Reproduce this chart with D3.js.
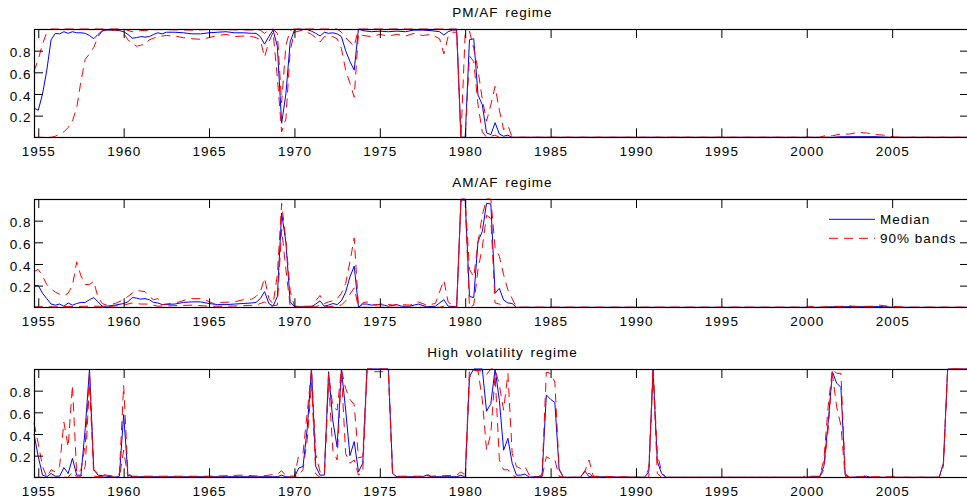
<!DOCTYPE html>
<html><head><meta charset="utf-8">
<script src="https://cdn.jsdelivr.net/npm/d3@7"></script>
<style>
html,body{margin:0;padding:0;background:#fff;overflow:hidden;}
svg{display:block;}
text{font-family:"Liberation Sans",Arial,Helvetica,sans-serif;font-size:13.5px;fill:#000;letter-spacing:1px;}
</style></head><body>
<svg id="chart" width="967" height="502"></svg>
<script>
// ---------- data (year, probability) ----------
const xTickYears = [1955, 1960, 1965, 1970, 1975, 1980, 1985, 1990, 1995, 2000, 2005];
const yTickValues = [0.2, 0.4, 0.6, 0.8];
const panelTitles = ["PM/AF regime", "AM/AF regime", "High volatility regime"];
const legendLabels = ["Median", "90% bands"];

const pmafMedian = [[1954.75,0.27],[1955.0,0.25],[1955.25,0.40],[1955.5,0.62],[1955.75,0.90],[1956.0,0.96],[1956.25,0.955],[1956.5,0.975],[1956.75,0.96],[1957.0,0.975],[1957.25,0.965],[1957.5,0.965],[1957.75,0.96],[1958.0,0.94],[1958.25,0.91],[1958.5,0.95],[1958.75,0.985],[1959.0,0.99],[1959.5,0.99],[1959.75,0.985],[1960.0,0.975],[1960.25,0.95],[1960.5,0.915],[1960.75,0.92],[1961.0,0.93],[1961.25,0.925],[1961.5,0.93],[1961.75,0.95],[1962.0,0.965],[1962.25,0.955],[1962.5,0.97],[1963.0,0.97],[1963.5,0.965],[1964.0,0.955],[1964.5,0.955],[1965.0,0.965],[1965.5,0.97],[1966.0,0.975],[1966.5,0.965],[1967.0,0.965],[1967.5,0.96],[1967.75,0.96],[1968.0,0.93],[1968.25,0.86],[1968.5,0.93],[1968.75,0.99],[1969.0,0.84],[1969.25,0.13],[1969.5,0.40],[1969.75,0.88],[1970.0,0.99],[1970.25,1.0],[1970.75,0.995],[1971.0,0.98],[1971.25,0.96],[1971.5,0.935],[1971.75,0.97],[1972.0,0.96],[1972.25,0.965],[1972.5,0.955],[1972.75,0.93],[1973.0,0.80],[1973.25,0.70],[1973.5,0.62],[1973.75,1.0],[1974.0,0.985],[1974.5,0.975],[1975.0,0.98],[1975.5,0.975],[1976.0,0.98],[1976.5,0.975],[1977.0,0.99],[1977.5,0.99],[1978.0,0.985],[1978.5,0.975],[1978.75,0.945],[1979.0,0.975],[1979.25,0.99],[1979.5,0.99],[1979.75,0.0],[1980.0,0.0],[1980.25,0.90],[1980.5,0.91],[1980.75,0.39],[1981.0,0.30],[1981.25,0.04],[1981.5,0.025],[1981.75,0.135],[1982.0,0.03],[1982.25,0.01],[1982.5,0.02],[1982.75,0.0],[2001.5,0.0],[2002.0,0.005],[2004.0,0.006],[2004.75,0.0],[2009.5,0.0]];
const pmafUpper = [[1954.75,0.61],[1955.0,0.72],[1955.25,0.86],[1955.5,0.97],[1955.75,1.0],[1960.0,1.0],[1960.5,0.975],[1961.0,0.985],[1962.0,0.995],[1964.0,0.99],[1965.0,0.995],[1968.0,0.99],[1968.25,0.96],[1968.5,0.99],[1968.75,1.0],[1969.0,0.96],[1969.25,0.32],[1969.5,0.85],[1969.75,0.99],[1970.0,1.0],[1972.5,1.0],[1972.75,0.97],[1973.0,0.92],[1973.25,0.88],[1973.5,0.84],[1973.75,1.0],[1979.5,1.0],[1979.75,0.0],[1980.0,0.97],[1980.25,0.98],[1980.5,0.82],[1980.75,0.62],[1981.0,0.35],[1981.25,0.15],[1981.5,0.30],[1981.75,0.47],[1982.0,0.25],[1982.25,0.07],[1982.5,0.11],[1982.75,0.0],[2000.75,0.0],[2001.0,0.012],[2001.5,0.015],[2002.0,0.03],[2002.5,0.03],[2003.0,0.045],[2003.5,0.04],[2004.0,0.025],[2004.5,0.02],[2005.0,0.005],[2005.5,0.0],[2009.5,0.0]];
const pmafLower = [[1954.75,0.0],[1955.75,0.0],[1956.0,0.01],[1956.25,0.03],[1956.5,0.05],[1956.75,0.09],[1957.0,0.15],[1957.25,0.27],[1957.5,0.52],[1957.75,0.72],[1958.0,0.77],[1958.25,0.83],[1958.5,0.93],[1958.75,0.98],[1959.0,0.99],[1959.75,0.99],[1960.0,0.96],[1960.25,0.90],[1960.5,0.87],[1960.75,0.84],[1961.0,0.85],[1961.25,0.86],[1961.5,0.90],[1961.75,0.915],[1962.0,0.93],[1962.5,0.94],[1963.0,0.935],[1963.5,0.92],[1964.0,0.91],[1964.5,0.905],[1965.0,0.92],[1965.5,0.94],[1966.0,0.95],[1966.5,0.93],[1967.0,0.935],[1967.5,0.93],[1967.75,0.92],[1968.0,0.90],[1968.25,0.74],[1968.5,0.88],[1968.75,0.97],[1969.0,0.55],[1969.25,0.05],[1969.5,0.17],[1969.75,0.80],[1970.0,0.97],[1970.5,0.99],[1971.0,0.95],[1971.25,0.92],[1971.5,0.88],[1971.75,0.93],[1972.0,0.92],[1972.25,0.93],[1972.5,0.91],[1972.75,0.82],[1973.0,0.62],[1973.25,0.50],[1973.5,0.37],[1973.75,0.96],[1974.0,0.94],[1974.5,0.93],[1975.0,0.95],[1975.5,0.935],[1976.0,0.95],[1976.5,0.935],[1977.0,0.96],[1977.5,0.94],[1978.0,0.95],[1978.5,0.91],[1978.75,0.77],[1979.0,0.93],[1979.25,0.97],[1979.5,0.97],[1979.75,0.0],[1980.0,0.0],[1980.25,0.75],[1980.5,0.70],[1980.75,0.30],[1981.0,0.05],[1981.25,0.0],[1981.5,0.01],[1981.75,0.02],[1982.0,0.0],[2009.5,0.0]];

const amafMedian = [[1954.75,0.20],[1955.0,0.20],[1955.25,0.13],[1955.5,0.08],[1955.75,0.03],[1956.0,0.02],[1956.25,0.03],[1956.5,0.01],[1956.75,0.04],[1957.0,0.02],[1957.25,0.035],[1957.5,0.045],[1957.75,0.045],[1958.0,0.07],[1958.25,0.09],[1958.5,0.05],[1958.75,0.01],[1959.0,0.01],[1959.5,0.02],[1960.0,0.035],[1960.25,0.05],[1960.5,0.09],[1960.75,0.085],[1961.0,0.075],[1961.25,0.08],[1961.5,0.07],[1961.75,0.045],[1962.0,0.04],[1962.25,0.025],[1963.0,0.03],[1963.5,0.045],[1964.0,0.05],[1964.5,0.05],[1965.0,0.035],[1965.5,0.025],[1966.0,0.025],[1966.5,0.03],[1967.0,0.035],[1967.5,0.04],[1967.75,0.045],[1968.0,0.08],[1968.25,0.145],[1968.5,0.035],[1968.75,0.01],[1969.0,0.10],[1969.25,0.87],[1969.5,0.60],[1969.75,0.05],[1970.0,0.005],[1971.0,0.005],[1971.25,0.03],[1971.5,0.06],[1971.75,0.01],[1972.0,0.02],[1972.25,0.035],[1972.5,0.025],[1972.75,0.06],[1973.0,0.14],[1973.25,0.28],[1973.5,0.38],[1973.75,0.0],[1974.0,0.03],[1974.25,0.03],[1974.5,0.02],[1975.0,0.025],[1975.25,0.02],[1975.5,0.01],[1976.0,0.025],[1976.25,0.01],[1976.75,0.01],[1977.25,0.03],[1977.75,0.005],[1978.25,0.01],[1978.75,0.07],[1979.0,0.01],[1979.5,0.005],[1979.75,0.99],[1980.0,0.99],[1980.25,0.10],[1980.5,0.09],[1980.75,0.61],[1981.0,0.70],[1981.25,0.96],[1981.5,0.955],[1981.75,0.13],[1982.0,0.175],[1982.25,0.067],[1982.5,0.04],[1982.75,0.035],[1983.0,0.0],[2001.0,0.0],[2001.5,0.005],[2004.5,0.006],[2005.0,0.0],[2009.5,0.0]];
const amafUpper = [[1954.75,0.33],[1955.0,0.35],[1955.25,0.29],[1955.5,0.21],[1955.75,0.17],[1956.0,0.14],[1956.25,0.12],[1956.5,0.105],[1956.75,0.13],[1957.0,0.20],[1957.25,0.42],[1957.5,0.29],[1957.75,0.21],[1958.0,0.21],[1958.25,0.24],[1958.5,0.09],[1958.75,0.035],[1959.0,0.02],[1959.5,0.035],[1960.0,0.07],[1960.25,0.10],[1960.5,0.13],[1960.75,0.16],[1961.0,0.15],[1961.25,0.145],[1961.5,0.10],[1961.75,0.07],[1962.0,0.08],[1962.25,0.025],[1962.75,0.035],[1963.25,0.05],[1963.75,0.075],[1964.0,0.08],[1964.5,0.08],[1964.75,0.07],[1965.25,0.035],[1965.75,0.045],[1966.5,0.05],[1967.0,0.07],[1967.5,0.075],[1967.75,0.10],[1968.0,0.14],[1968.25,0.27],[1968.5,0.08],[1968.75,0.03],[1969.0,0.30],[1969.25,0.96],[1969.5,0.62],[1969.75,0.15],[1970.0,0.01],[1971.0,0.01],[1971.25,0.06],[1971.5,0.11],[1971.75,0.035],[1972.0,0.05],[1972.25,0.06],[1972.5,0.08],[1972.75,0.13],[1973.0,0.22],[1973.25,0.42],[1973.5,0.64],[1973.75,0.0],[1974.0,0.04],[1974.25,0.05],[1974.75,0.02],[1975.25,0.035],[1975.75,0.02],[1976.25,0.025],[1976.75,0.02],[1977.25,0.05],[1977.75,0.02],[1978.25,0.035],[1978.75,0.25],[1979.0,0.05],[1979.25,0.02],[1979.5,0.01],[1979.75,1.0],[1980.0,1.0],[1980.25,0.35],[1980.5,0.28],[1980.75,0.60],[1981.0,0.85],[1981.25,1.0],[1981.5,1.0],[1981.75,0.55],[1982.0,0.47],[1982.25,0.30],[1982.5,0.16],[1982.75,0.08],[1983.0,0.0],[2000.0,0.0],[2000.25,0.008],[2000.5,0.0],[2001.0,0.003],[2001.5,0.01],[2002.0,0.007],[2002.25,0.015],[2003.0,0.008],[2004.0,0.01],[2004.25,0.02],[2004.75,0.01],[2005.5,0.005],[2006.0,0.0],[2009.5,0.0]];
const amafLower = [[1954.75,0.005],[1956.0,0.005],[1958.0,0.01],[1958.5,0.01],[1959.0,0.005],[1960.0,0.02],[1960.5,0.04],[1961.0,0.03],[1961.5,0.03],[1962.0,0.01],[1963.0,0.015],[1964.0,0.02],[1965.0,0.01],[1966.0,0.01],[1967.0,0.015],[1967.75,0.02],[1968.25,0.05],[1968.5,0.01],[1969.0,0.02],[1969.25,0.72],[1969.5,0.35],[1969.75,0.01],[1970.0,0.0],[1971.25,0.005],[1971.5,0.02],[1972.0,0.005],[1972.75,0.02],[1973.0,0.06],[1973.25,0.12],[1973.5,0.18],[1973.75,0.0],[1978.5,0.0],[1978.75,0.01],[1979.5,0.0],[1979.75,0.98],[1980.0,0.97],[1980.25,0.0],[1980.5,0.02],[1980.75,0.35],[1981.0,0.55],[1981.25,0.85],[1981.5,0.82],[1981.75,0.04],[1982.0,0.03],[1982.25,0.005],[1982.5,0.0],[2009.5,0.0]];

const hvolMedian = [[1954.75,0.40],[1955.0,0.19],[1955.25,0.02],[1955.5,0.005],[1955.75,0.035],[1956.0,0.01],[1956.25,0.01],[1956.5,0.09],[1956.75,0.035],[1957.0,0.175],[1957.25,0.02],[1957.5,0.02],[1957.75,0.45],[1958.0,1.0],[1958.25,0.07],[1958.5,0.02],[1959.0,0.01],[1959.5,0.0],[1959.75,0.01],[1960.0,0.58],[1960.25,0.02],[1960.5,0.005],[1969.0,0.005],[1969.25,0.02],[1969.5,0.005],[1970.0,0.0],[1970.25,0.085],[1970.5,0.10],[1970.75,0.45],[1971.0,1.0],[1971.25,0.10],[1971.5,0.02],[1971.75,0.02],[1972.0,0.975],[1972.25,0.52],[1972.5,0.28],[1972.75,1.0],[1973.0,0.62],[1973.25,0.20],[1973.5,0.33],[1973.75,0.05],[1974.0,0.13],[1974.25,1.0],[1975.5,1.0],[1975.75,0.035],[1976.0,0.005],[1977.5,0.005],[1977.75,0.02],[1978.0,0.005],[1979.5,0.005],[1979.75,0.02],[1980.0,0.0],[1980.25,0.93],[1980.5,1.0],[1981.0,1.0],[1981.25,0.61],[1981.5,0.68],[1981.75,1.0],[1982.0,0.71],[1982.25,0.25],[1982.5,0.36],[1982.75,0.13],[1983.0,0.02],[1983.25,0.02],[1983.5,0.03],[1983.75,0.0],[1984.5,0.01],[1984.75,0.76],[1985.0,0.72],[1985.25,0.69],[1985.5,0.07],[1985.75,0.0],[1986.75,0.0],[1987.0,0.06],[1987.25,0.005],[1990.5,0.0],[1990.75,0.05],[1991.0,1.0],[1991.25,0.145],[1991.5,0.035],[1991.75,0.0],[2000.0,0.0],[2000.25,0.005],[2000.75,0.005],[2001.0,0.10],[2001.25,0.50],[2001.5,0.975],[2001.75,0.87],[2002.0,0.83],[2002.25,0.02],[2002.5,0.0],[2003.25,0.005],[2003.5,0.01],[2003.75,0.0],[2007.75,0.0],[2008.0,0.13],[2008.25,1.0],[2009.5,1.0]];
const hvolUpper = [[1954.75,0.50],[1955.0,0.31],[1955.25,0.10],[1955.5,0.0],[1955.75,0.07],[1956.0,0.05],[1956.25,0.10],[1956.5,0.51],[1956.75,0.28],[1957.0,0.85],[1957.25,0.035],[1957.5,0.07],[1957.75,0.30],[1958.0,0.975],[1958.25,0.07],[1958.5,0.035],[1959.0,0.02],[1959.5,0.01],[1959.75,0.035],[1960.0,0.85],[1960.25,0.035],[1960.5,0.01],[1965.0,0.01],[1967.0,0.02],[1968.0,0.01],[1969.0,0.03],[1969.25,0.06],[1969.5,0.015],[1970.0,0.01],[1970.25,0.20],[1970.5,0.22],[1970.75,0.60],[1971.0,1.0],[1971.25,0.21],[1971.5,0.05],[1971.75,0.035],[1972.0,0.96],[1972.25,0.65],[1972.5,0.62],[1972.75,1.0],[1973.0,0.82],[1973.25,0.72],[1973.5,0.67],[1973.75,0.18],[1974.0,0.19],[1974.25,1.0],[1975.5,1.0],[1975.75,0.035],[1976.0,0.01],[1977.5,0.01],[1977.75,0.03],[1978.0,0.01],[1979.5,0.02],[1979.75,0.05],[1980.0,0.02],[1980.25,1.0],[1981.0,0.98],[1981.25,0.95],[1981.5,1.0],[1981.75,1.0],[1982.0,0.85],[1982.25,0.62],[1982.5,0.96],[1982.75,0.22],[1983.0,0.10],[1983.25,0.08],[1983.5,0.10],[1983.75,0.02],[1984.25,0.0],[1984.5,0.03],[1984.75,0.97],[1985.0,0.96],[1985.25,0.88],[1985.5,0.08],[1985.75,0.0],[1986.75,0.0],[1987.0,0.05],[1987.25,0.16],[1987.5,0.01],[1990.5,0.0],[1990.75,0.08],[1991.0,1.0],[1991.25,0.22],[1991.5,0.05],[1991.75,0.0],[1999.75,0.0],[2000.0,0.02],[2000.25,0.01],[2000.75,0.01],[2001.0,0.16],[2001.25,0.65],[2001.5,1.0],[2001.75,0.96],[2002.0,0.96],[2002.25,0.035],[2002.5,0.0],[2003.25,0.005],[2003.5,0.02],[2003.75,0.005],[2005.0,0.005],[2005.25,0.015],[2005.5,0.0],[2007.75,0.0],[2008.0,0.12],[2008.25,1.0],[2009.5,1.0]];
const hvolLower = [[1954.75,0.0],[1956.75,0.0],[1957.0,0.05],[1957.25,0.005],[1957.5,0.005],[1957.75,0.10],[1958.0,0.87],[1958.25,0.01],[1959.75,0.0],[1960.0,0.25],[1960.25,0.0],[1970.0,0.0],[1970.25,0.02],[1970.5,0.07],[1970.75,0.35],[1971.0,0.87],[1971.25,0.03],[1971.5,0.0],[1971.75,0.0],[1972.0,0.87],[1972.25,0.25],[1972.5,0.16],[1972.75,0.96],[1973.0,0.22],[1973.25,0.13],[1973.5,0.16],[1973.75,0.02],[1974.0,0.05],[1974.25,0.975],[1975.5,0.975],[1975.75,0.0],[1980.0,0.0],[1980.25,0.92],[1980.5,0.99],[1980.75,0.98],[1981.0,0.72],[1981.25,0.25],[1981.5,0.40],[1981.75,0.95],[1982.0,0.16],[1982.25,0.07],[1982.5,0.07],[1982.75,0.02],[1983.0,0.0],[1984.5,0.0],[1984.75,0.19],[1985.0,0.17],[1985.25,0.16],[1985.5,0.01],[1985.75,0.0],[1987.0,0.0],[1987.25,0.04],[1987.5,0.0],[1990.75,0.0],[1991.0,0.975],[1991.25,0.035],[1991.5,0.0],[2000.75,0.0],[2001.0,0.07],[2001.25,0.44],[2001.5,0.96],[2001.75,0.65],[2002.0,0.48],[2002.25,0.005],[2002.5,0.0],[2007.75,0.0],[2008.0,0.10],[2008.25,1.0],[2009.5,1.0]];

// ---------- layout ----------
const panels = [
  {title: panelTitles[0], median: pmafMedian, lower: pmafLower, upper: pmafUpper, top: 29},
  {title: panelTitles[1], median: amafMedian, lower: amafLower, upper: amafUpper, top: 199, legend: true},
  {title: panelTitles[2], median: hvolMedian, lower: hvolLower, upper: hvolUpper, top: 369}
];
const plotH = 108.3;
const xLeft = 34, xRight = 969;
const x = d3.scaleLinear().domain([1954.75, 2009.5]).range([xLeft, xRight]);
const svg = d3.select("#chart");
const BLUE = "#0000ff", RED = "#ff0000", DASH = "9,6";

panels.forEach(p => {
  const y = d3.scaleLinear().domain([0, 1]).range([p.top + plotH, p.top]);
  const g = svg.append("g");
  const line = d3.line().x(d => x(d[0])).y(d => y(d[1]));

  // lines
  g.append("path").datum(p.median).attr("d", line)
    .attr("fill", "none").attr("stroke", BLUE).attr("stroke-width", 1);
  [p.lower, p.upper].forEach(s => {
    g.append("path").datum(s).attr("d", line)
      .attr("fill", "none").attr("stroke", RED).attr("stroke-width", 1)
      .attr("stroke-dasharray", DASH);
  });

  // frame
  g.append("rect").attr("x", xLeft + 0.5).attr("y", Math.round(p.top) + 0.5)
    .attr("width", xRight - xLeft).attr("height", Math.round(plotH))
    .attr("fill", "none").attr("stroke", "#000").attr("stroke-width", 1.2);

  // axes
  const bottom = g.append("g").attr("transform", `translate(0,${p.top + plotH})`)
    .call(d3.axisBottom(x).tickValues(xTickYears).tickFormat(d3.format("d")).tickSize(-9).tickPadding(9.6));
  const topAx = g.append("g").attr("transform", `translate(0,${p.top})`)
    .call(d3.axisTop(x).tickValues(xTickYears).tickFormat("").tickSize(-9));
  const left = g.append("g").attr("transform", `translate(${xLeft},0)`)
    .call(d3.axisLeft(y).tickValues(yTickValues).tickFormat(d3.format(".1f")).tickSize(-9).tickPadding(2.5));
  const right = g.append("g").attr("transform", `translate(${xRight},0)`)
    .call(d3.axisRight(y).tickValues(yTickValues).tickFormat("").tickSize(-9));
  [bottom, topAx, left, right].forEach(a => {
    a.select(".domain").remove();
    a.selectAll(".tick line").attr("stroke", "#000");
    a.selectAll("text").attr("font-family", null).attr("font-size", null).attr("fill", "#000");
  });
  left.selectAll("text").attr("dy", "0.45em");

  // title
  g.append("text").attr("x", (xLeft + 967) / 2 + 2).attr("y", p.top - 12)
    .attr("text-anchor", "middle").attr("word-spacing", "2px").text(p.title);

  // legend
  if (p.legend) {
    const lg = g.append("g");
    const rows = [{label: legendLabels[0], color: BLUE, dash: null, yy: 219.3},
                  {label: legendLabels[1], color: RED, dash: DASH, yy: 238.3}];
    rows.forEach(r => {
      lg.append("line").attr("x1", 829).attr("x2", 875).attr("y1", r.yy).attr("y2", r.yy)
        .attr("stroke", r.color).attr("stroke-width", 1).attr("stroke-dasharray", r.dash);
      lg.append("text").attr("x", 880).attr("y", r.yy).attr("dy", "0.36em").text(r.label);
    });
  }
});
</script>
</body></html>
